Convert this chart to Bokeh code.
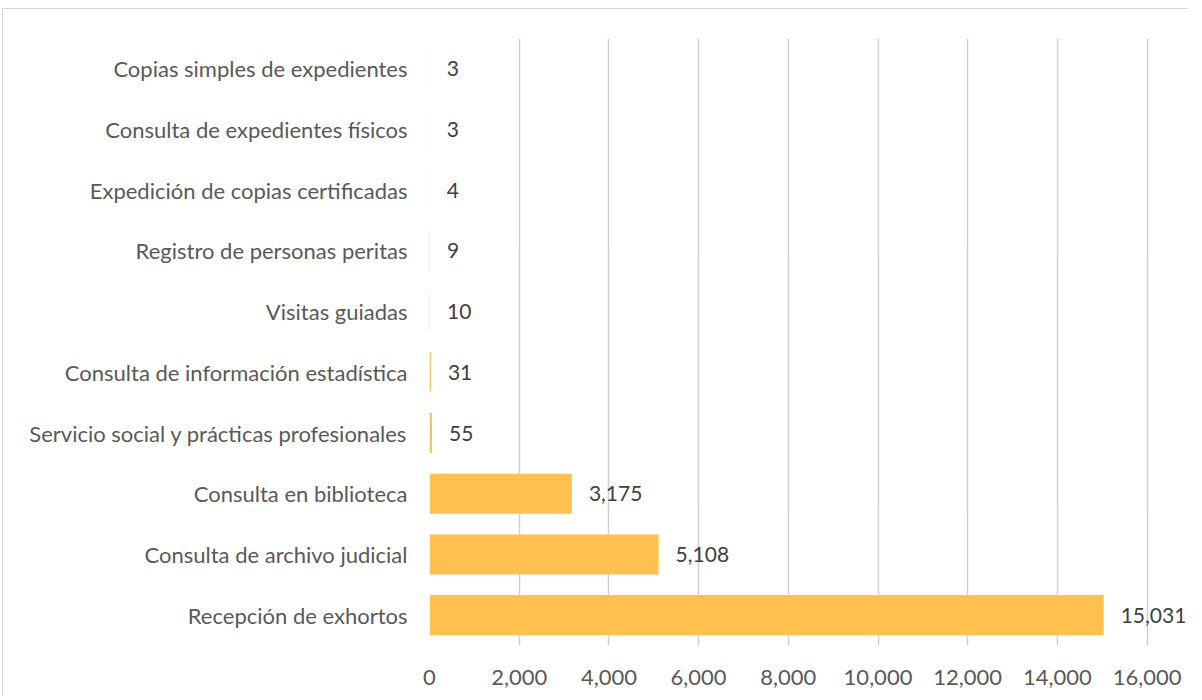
from bokeh.plotting import figure
from bokeh.models import ColumnDataSource, FactorRange, Range1d, FixedTicker, NumeralTickFormatter
from bokeh.core.properties import value
from bokeh.embed import file_html
from bokeh.resources import INLINE

categories = [
    "Copias simples de expedientes",
    "Consulta de expedientes físicos",
    "Expedición de copias certificadas",
    "Registro de personas peritas",
    "Visitas guiadas",
    "Consulta de información estadística",
    "Servicio social y prácticas profesionales",
    "Consulta en biblioteca",
    "Consulta de archivo judicial",
    "Recepción de exhortos",
]
values = [3, 3, 4, 9, 10, 31, 55, 3175, 5108, 15031]
x_ticks = [0, 2000, 4000, 6000, 8000, 10000, 12000, 14000, 16000]

labels = [f"{v:,}" for v in values]
src = ColumnDataSource(dict(cat=categories, val=values, lab=labels))

FONT = "Lato"

p = figure(
    width=1186, height=688,
    y_range=FactorRange(*list(reversed(categories))),
    x_range=Range1d(0, 16945),
    output_backend="svg", toolbar_location=None,
    min_border_left=426, min_border_right=0, min_border_top=29, min_border_bottom=52,
    styles={"border-left": "1px solid #d9d9d9", "border-top": "1px solid #d9d9d9",
            "margin-left": "2px", "margin-top": "8px"},
)
p.outline_line_color = None
p.background_fill_color = "white"

p.hbar(y="cat", right="val", left=0, height=0.66, source=src,
       fill_color="#FFC050", line_color=None)

p.text(x="val", y="cat", text="lab", x_offset=17, source=src,
       text_baseline="middle", text_align="left",
       text_font=value(FONT), text_font_size="21px", text_color="#404040")

p.xaxis.ticker = FixedTicker(ticks=x_ticks)
p.xaxis.formatter = NumeralTickFormatter(format="0,0")
for ax in (p.xaxis[0], p.yaxis[0]):
    ax.axis_line_color = None
    ax.major_tick_line_color = None
    ax.minor_tick_line_color = None
    ax.major_tick_out = 0
    ax.major_tick_in = 0
    ax.major_label_text_font = FONT
    ax.major_label_text_font_size = "22px"
    ax.major_label_text_color = "#595959"
p.xaxis.major_label_standoff = 24
p.yaxis.major_label_standoff = 22

p.xgrid.grid_line_color = "#d0d0d0"
p.xgrid.grid_line_width = 1.5
p.xgrid.ticker = FixedTicker(ticks=x_ticks)
p.ygrid.grid_line_color = None

open("out.html", "w").write(file_html(p, INLINE))
